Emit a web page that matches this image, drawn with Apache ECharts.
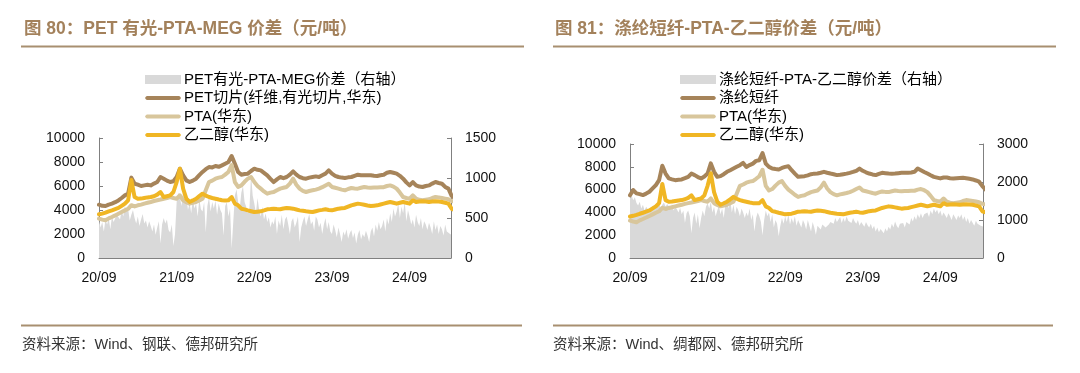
<!DOCTYPE html>
<html><head><meta charset="utf-8">
<script src="https://cdn.jsdelivr.net/npm/echarts/dist/echarts.min.js"></script>
<style>html,body{margin:0;padding:0;background:#fff}#c{width:1080px;height:373px}</style>
</head><body><div id="c"></div>
<script>
// ---- tick labels (x axis, one per year, months counted from 2020/09) ----
const xTickLabels = ['20/09', '21/09', '22/09', '23/09', '24/09'];
const lineStepMonths = 0.5;    // line series: one value every half month
const spreadStepMonths = 0.25; // spread series: one value every ~week

// ---- PET chip (fiber, bright chip, East China), 元/吨 ----
const petChip = [
  4440,4350,4330,4450,4530,4650,4800,5000,5220,5360,6700,6190,
  6110,6000,6050,6100,6050,6200,6330,6750,6610,6450,6330,6400,
  6750,7440,6890,6470,6330,6450,6610,6900,7170,7400,7580,7550,
  7670,7600,7720,7860,8000,8500,7860,7170,6940,7000,7030,7250,
  7440,7350,7300,7100,6890,6600,6330,6550,6750,6650,6750,6950,
  7220,6950,6750,6650,6610,6700,6750,6800,6750,6900,7030,7300,
  7030,6850,6750,6700,6670,6720,6750,6850,6940,6900,6890,6900,
  6890,6850,6830,6900,6940,7100,7170,7100,7030,6850,6610,6300,
  6050,6330,6050,5950,5920,6000,6050,6200,6330,6250,6190,5920,
  5780,5180,5000
];
// ---- PTA (East China) ----
const pta = [
  3280,3200,3140,3300,3420,3550,3690,3830,3970,4100,4400,4300,
  4390,4450,4530,4600,4670,4750,4810,4870,4940,5000,5080,5000,
  4940,5220,4810,4650,4530,4600,4670,4800,4940,5640,6330,6450,
  6610,6700,6750,6950,7170,7740,6330,5920,6050,6350,6610,6750,
  6330,6000,5780,5550,5360,5450,5500,5650,5780,5850,5920,6200,
  6610,6100,5780,5600,5500,5580,5640,5700,5780,5900,6050,6190,
  5920,5850,5780,5700,5640,5750,5830,5800,5780,5850,5920,5880,
  5850,5870,5880,5900,5900,6000,6050,5950,5780,5450,5080,5000,
  4940,5220,4940,4850,4810,4850,4890,5000,5080,5050,5000,4950,
  4890,4750,4700
];
// ---- MEG / 乙二醇 (East China) ----
const meg = [
  3640,3700,3780,3880,3970,4070,4170,4350,4530,4810,6500,5080,
  4940,4950,5000,5050,5080,5150,5280,5500,5080,5150,5220,5500,
  6330,7440,5780,4940,4670,4800,4940,5150,5360,5200,5080,5000,
  4940,4870,4810,4800,4810,5080,4530,4390,4110,4050,3970,3900,
  3830,3860,3890,3970,4060,4080,4110,4080,4060,4120,4170,4140,
  4110,4040,3970,3930,3890,3860,3830,3900,3970,4010,4060,4000,
  3970,4040,4110,4140,4170,4280,4390,4460,4530,4490,4440,4380,
  4330,4360,4390,4460,4530,4600,4670,4600,4530,4600,4670,4600,
  4530,4810,4670,4700,4720,4700,4670,4700,4720,4700,4670,4600,
  4530,4100,4000
];
// ---- Polyester staple fiber / 涤纶短纤 ----
const psf = [
  5500,5960,5670,5600,5520,5650,5810,6100,6400,6830,8100,7410,
  6980,6900,6830,6860,6890,7000,7120,7410,7270,7100,6980,7150,
  7410,8300,7560,7120,7180,7350,7560,7700,7850,8000,8140,8340,
  7990,8150,8280,8520,8580,9200,8280,7990,7850,7800,7760,7900,
  7990,8050,7700,7400,7120,7150,7180,7250,7350,7400,7410,7480,
  7560,7480,7410,7350,7270,7300,7350,7400,7470,7550,7650,7850,
  7650,7520,7410,7330,7270,7380,7470,7440,7410,7400,7410,7440,
  7470,7470,7470,7500,7560,7850,7700,7550,7410,7260,7120,7050,
  6980,7060,7060,7000,6980,7000,7020,7040,7000,6950,6890,6800,
  6690,6300,6000
];
// ---- PET bright - PTA - MEG spread (right axis) ----
const petSpread = [
  470,380,450,330,480,420,500,360,520,450,470,540,
  560,480,600,520,650,580,620,470,540,600,500,430,
  520,400,480,550,430,470,380,460,400,330,420,290,
  380,460,180,420,500,430,480,350,320,420,150,300,
  700,820,760,650,840,720,780,600,690,560,740,620,
  680,520,740,610,580,700,320,650,760,580,700,620,
  720,540,680,600,560,280,650,700,520,620,120,450,
  780,860,700,620,820,900,700,640,560,620,1050,780,
  680,560,750,600,520,640,480,560,450,510,380,460,
  420,520,300,470,400,540,360,480,520,420,300,460,
  500,380,440,520,200,380,460,520,400,480,550,420,
  460,340,520,480,380,440,300,420,500,360,450,330,
  300,420,350,260,380,300,200,330,280,360,240,310,
  350,250,320,180,290,350,230,300,260,340,280,200,
  330,380,270,420,340,450,360,400,480,330,500,420,
  560,450,620,520,580,680,500,640,560,700,460,600,
  520,420,480,380,540,450,400,500,360,460,420,350,
  440,380,300,460,350,420,300,400,360,280,420,330,
  350,300,320,280,300
];
// ---- PSF - PTA - MEG spread (right axis) ----
const psfSpread = [
  1580,1650,1520,1600,1450,1380,1480,1300,1400,1250,1350,1280,
  1300,1220,1380,1280,1420,1350,1450,1300,1400,1460,1350,1420,
  1380,1300,1420,1250,1350,1280,1200,1320,1150,1250,920,1180,
  1250,1100,650,1050,1200,900,1150,780,1050,1250,1100,1350,
  1440,1300,1480,1200,1350,1100,1250,1380,1150,1300,1050,1400,
  1500,1300,1550,1200,1400,1150,1350,1250,1100,1300,1200,1050,
  1200,1100,1300,1000,1150,700,1050,1200,1100,950,600,1000,
  1250,1100,1200,950,1150,800,1000,900,570,850,1050,900,
  1100,950,1150,880,1050,920,1100,850,1000,950,800,1000,
  900,750,1000,850,700,950,800,610,850,900,750,880,
  900,800,760,880,950,1000,900,1050,950,1000,1080,920,
  1050,950,1090,980,1000,920,1050,960,900,1000,850,950,
  900,820,950,860,800,900,760,850,700,800,680,760,
  720,650,780,700,820,750,900,800,960,850,780,900,
  850,920,800,950,1000,880,1050,960,1100,1000,1150,1050,
  1180,1050,1150,1100,1200,1080,1250,1150,1300,1200,1270,1150,
  1250,1100,1200,1150,1050,1180,1100,1000,1150,1080,1000,1120,
  1050,1150,1000,1100,950,1050,900,1000,950,850,980,900,
  880,850,900,820,850
];

const names = {
  spreadL: 'PET有光-PTA-MEG价差（右轴）',
  pet: 'PET切片(纤维,有光切片,华东)',
  pta: 'PTA(华东)',
  meg: '乙二醇(华东)',
  spreadR: '涤纶短纤-PTA-乙二醇价差（右轴）',
  psf: '涤纶短纤'
};

const C = {
  brown: '#a6845a', tan: '#d8c69c', yellow: '#f0b624', gray: '#d9d9d9',
  title: '#a3815b', rule: '#a88f70', axis: '#808080', text: '#111'
};
const FONT = "'Liberation Sans', Arial, 'Noto Sans CJK SC', sans-serif";
const LINE_ICON = 'path://M2,0 L34,0 L35,0.5 L36,2 L35,3.5 L34,4 L2,4 L1,3.5 L0,2 L1,0.5 Z';

function toXY(arr, step) { return arr.map((v, i) => [i * step, v]); }

function lineSeries(name, arr, color, xi, yi) {
  return {
    name, type: 'line', xAxisIndex: xi, yAxisIndex: yi, data: toXY(arr, lineStepMonths),
    symbol: 'none', smooth: false, itemStyle: { color },
    lineStyle: { color, width: 4, cap: 'round', join: 'round' }
  };
}
function areaSeries(name, arr, xi, yi) {
  return {
    name, type: 'line', xAxisIndex: xi, yAxisIndex: yi, data: toXY(arr, spreadStepMonths),
    symbol: 'none', itemStyle: { color: C.gray }, lineStyle: { width: 0, color: C.gray },
    areaStyle: { color: C.gray, opacity: 1 }
  };
}
function xAxisCfg(gi, max) {
  return {
    type: 'value', gridIndex: gi, min: 0, max, interval: 12,
    axisLine: { show: true, lineStyle: { color: C.axis, width: 1 } },
    axisTick: { show: true, inside: true, length: 4, lineStyle: { color: C.axis } },
    axisLabel: {
      formatter: v => (v % 12 === 0 && xTickLabels[v / 12]) ? xTickLabels[v / 12] : '',
      color: C.text, fontSize: 14, fontFamily: FONT, margin: 13, showMaxLabel: false
    },
    splitLine: { show: false }
  };
}
function yAxisCfg(gi, pos, max, interval) {
  return {
    type: 'value', gridIndex: gi, position: pos, min: 0, max, interval,
    axisLine: { show: true, lineStyle: { color: C.axis, width: 1 } },
    axisTick: { show: true, inside: true, length: 4, lineStyle: { color: C.axis } },
    axisLabel: { color: C.text, fontSize: 14, fontFamily: FONT, margin: 14, formatter: v => String(v) },
    splitLine: { show: false }
  };
}
function legendCfg(left, data) {
  return {
    orient: 'vertical', left, top: 72, padding: 0, itemGap: 3.5,
    itemWidth: 36, itemHeight: 9,
    textStyle: { fontSize: 15, color: '#000', fontFamily: FONT, padding: [0, 0, 0, -2] },
    data
  };
}

const chart = echarts.init(document.getElementById('c'), null, { renderer: 'canvas' });
chart.setOption({
  animation: false,
  backgroundColor: '#fff',
  title: [
    { text: '图 80：PET 有光-PTA-MEG 价差（元/吨）', left: 24, top: 20.5, padding: 0,
      textStyle: { fontSize: 17.5, fontWeight: 'bold', color: C.title, fontFamily: FONT } },
    { text: '图 81：涤纶短纤-PTA-乙二醇价差（元/吨）', left: 555, top: 20.5, padding: 0,
      textStyle: { fontSize: 17.5, fontWeight: 'bold', color: C.title, fontFamily: FONT } }
  ],
  legend: [
    legendCfg(145, [{ name: names.spreadL, icon: 'rect' },
      { name: names.pet, icon: LINE_ICON }, { name: names.pta, icon: LINE_ICON }, { name: names.meg, icon: LINE_ICON }]),
    legendCfg(680, [{ name: names.spreadR, icon: 'rect' },
      { name: names.psf, icon: LINE_ICON }, { name: names.pta, icon: LINE_ICON }, { name: names.meg, icon: LINE_ICON }])
  ],
  grid: [
    { left: 99, top: 138, width: 352, height: 120, containLabel: false },
    { left: 630, top: 144, width: 353, height: 114, containLabel: false }
  ],
  xAxis: [xAxisCfg(0, 54.4), xAxisCfg(1, 54.6)],
  yAxis: [
    yAxisCfg(0, 'left', 10000, 2000), yAxisCfg(0, 'right', 1500, 500),
    yAxisCfg(1, 'left', 10000, 2000), yAxisCfg(1, 'right', 3000, 1000)
  ],
  series: [
    areaSeries(names.spreadL, petSpread, 0, 1),
    lineSeries(names.pet, petChip, C.brown, 0, 0),
    lineSeries(names.pta, pta, C.tan, 0, 0),
    lineSeries(names.meg, meg, C.yellow, 0, 0),
    areaSeries(names.spreadR, psfSpread, 1, 3),
    lineSeries(names.psf, psf, C.brown, 1, 2),
    lineSeries(names.pta, pta, C.tan, 1, 2),
    lineSeries(names.meg, meg, C.yellow, 1, 2)
  ],
  graphic: [
    { type: 'rect', shape: { x: 21, y: 45.5, width: 503, height: 2 }, style: { fill: C.rule }, silent: true },
    { type: 'rect', shape: { x: 553, y: 45.5, width: 503, height: 2 }, style: { fill: C.rule }, silent: true },
    { type: 'rect', shape: { x: 21, y: 324.5, width: 501, height: 2 }, style: { fill: C.rule }, silent: true },
    { type: 'rect', shape: { x: 553, y: 324.5, width: 500, height: 2 }, style: { fill: C.rule }, silent: true },
    { type: 'text', left: 22, top: 338, style: { text: '资料来源：Wind、钢联、德邦研究所', fill: '#333', font: "14.5px 'Liberation Sans', 'Noto Sans CJK SC', sans-serif" } },
    { type: 'text', left: 553, top: 338, style: { text: '资料来源：Wind、绸都网、德邦研究所', fill: '#333', font: "14.5px 'Liberation Sans', 'Noto Sans CJK SC', sans-serif" } }
  ]
});
</script></body></html>
